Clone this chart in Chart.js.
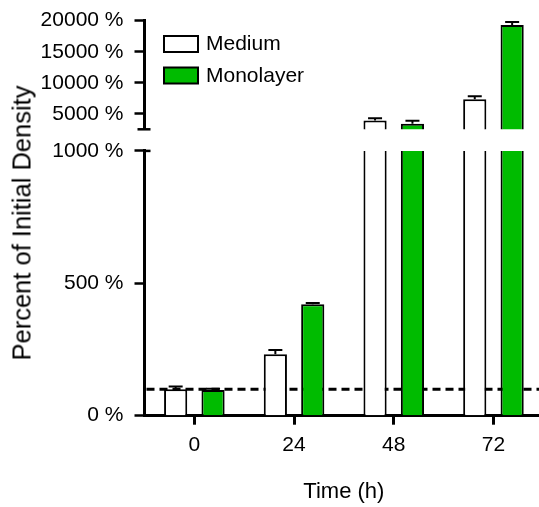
<!DOCTYPE html>
<html>
<head>
<meta charset="utf-8">
<script src="https://cdn.jsdelivr.net/npm/chart.js@4.4.0/dist/chart.umd.min.js"></script>
<style>
  html, body { margin: 0; padding: 0; background: #fff; overflow: hidden; }
  #wrap { position: relative; width: 539px; height: 507px; overflow: hidden; }
  canvas { position: absolute; left: 0; top: 0; }
  #yTitle {
    position: absolute; left: 22px; top: 223px;
    transform: translate(-50%, -50%) rotate(-90deg);
    white-space: nowrap; color: #000;
    font: 25.5px "Liberation Sans", Arial, sans-serif;
  }
</style>
</head>
<body>
<div id="wrap">
  <canvas id="lowChart" width="546" height="507"></canvas>
  <canvas id="highChart" width="546" height="145"></canvas>
  <div id="yTitle">Percent of Initial Density</div>
</div>
<script>
const TIMES = ['0', '24', '48', '72'];
const MEDIUM = [100, 232, 3920, 7350];
const MEDIUM_ERR = [10, 16, 370, 490];
const MONOLAYER = [97, 421, 3390, 19300];
const MONOLAYER_ERR = [5, 5, 480, 490];
const LOW_TICKS = [0, 500, 1000];
const HIGH_TICKS = [5000, 10000, 15000, 20000];
const BASELINE = 100;

const GREEN = '#00bb00';
Chart.defaults.font.family = '"Liberation Sans", Arial, sans-serif';
Chart.defaults.color = '#000';

function makeDatasets() {
    return [
        { label: 'Medium', data: MEDIUM, errors: MEDIUM_ERR, backgroundColor: '#fff' },
        { label: 'Monolayer', data: MONOLAYER, errors: MONOLAYER_ERR, backgroundColor: GREEN }
    ].map(d => Object.assign(d, {
        borderColor: '#000', borderWidth: 2, clip: 0,
        categoryPercentage: 0.75, barPercentage: 0.62
    }));
}

// error bars (upper half only), clipped to the plot area
const errorBars = {
    id: 'errorBars',
    afterDatasetsDraw(chart) {
        const {ctx, chartArea: a, scales: {y}} = chart;
        ctx.save();
        ctx.beginPath();
        ctx.rect(a.left, a.top, a.right - a.left, a.bottom - a.top);
        ctx.clip();
        ctx.strokeStyle = '#000';
        ctx.lineWidth = 2;
        chart.data.datasets.forEach((ds, i) => {
            chart.getDatasetMeta(i).data.forEach((bar, j) => {
                const yTop = y.getPixelForValue(ds.data[j] + ds.errors[j]);
                ctx.beginPath();
                ctx.moveTo(bar.x, bar.y);
                ctx.lineTo(bar.x, yTop);
                ctx.moveTo(bar.x - 7, yTop);
                ctx.lineTo(bar.x + 7, yTop);
                ctx.stroke();
            });
        });
        ctx.restore();
    }
};

const dashedBaseline = {
    id: 'dashedBaseline',
    beforeDatasetsDraw(chart) {
        const {ctx, chartArea: a, scales: {y}} = chart;
        const py = y.getPixelForValue(BASELINE);
        ctx.save();
        ctx.strokeStyle = '#000';
        ctx.lineWidth = 3;
        ctx.setLineDash([8, 5]);
        ctx.beginPath();
        ctx.moveTo(a.left + 2, py);
        ctx.lineTo(a.right, py);
        ctx.stroke();
        ctx.restore();
    }
};

// little caps on each side of the axis break
const breakMarks = {
    id: 'breakMarks',
    afterDraw(chart, args, opts) {
        const {ctx, chartArea: a} = chart;
        ctx.save();
        ctx.strokeStyle = '#000';
        ctx.lineWidth = 2.5;
        ctx.beginPath();
        if (opts.side === 'bottom') {
            ctx.moveTo(a.left - 7, a.bottom);
            ctx.lineTo(a.left + 6, a.bottom);
        } else {
            ctx.moveTo(a.left, a.top);
            ctx.lineTo(a.left + 6, a.top);
        }
        ctx.stroke();
        ctx.restore();
    }
};

const boxLegend = {
    id: 'boxLegend',
    afterDraw(chart) {
        const ctx = chart.ctx;
        ctx.save();
        ctx.font = '21px "Liberation Sans", Arial, sans-serif';
        ctx.textBaseline = 'middle';
        chart.data.datasets.forEach((ds, i) => {
            const top = 36 + i * 31.5;
            ctx.fillStyle = ds.backgroundColor;
            ctx.fillRect(164, top, 34, 16);
            ctx.lineWidth = 2;
            ctx.strokeStyle = '#000';
            ctx.strokeRect(164, top, 34, 16);
            ctx.fillStyle = '#000';
            ctx.fillText(ds.label, 206, top + 8.5);
        });
        ctx.restore();
    }
};

function yAxis(min, max, ticks) {
    return {
        min: min, max: max,
        afterBuildTicks: s => { s.ticks = ticks.map(v => ({ value: v })); },
        afterFit: s => { s.width = 144.5; s.paddingTop = 0; s.paddingBottom = 0; },
        border: { display: true, color: '#000', width: 3 },
        grid: { drawOnChartArea: false, tickLength: 10, tickWidth: 2.5, tickColor: '#000' },
        ticks: { font: { size: 21 }, color: '#000', padding: 11, callback: v => v + ' %' }
    };
}

new Chart(document.getElementById('lowChart'), {
    type: 'bar',
    data: { labels: TIMES, datasets: makeDatasets() },
    options: {
        responsive: false, animation: false,
        layout: { padding: { top: 150.9, bottom: 0, left: 0, right: 2.7 } },
        plugins: { legend: { display: false }, tooltip: { enabled: false }, breakMarks: { side: 'top' } },
        scales: {
            x: {
                afterFit: s => { s.height = 507 - 415.7; },
                border: { display: true, color: '#000', width: 3 },
                grid: { offset: false, drawOnChartArea: false, tickLength: 9, tickWidth: 3, tickColor: '#000' },
                ticks: { font: { size: 21 }, color: '#000', padding: 8 },
                title: { display: true, text: 'Time (h)', font: { size: 22 }, color: '#000', padding: { top: 0, bottom: 2 } }
            },
            y: yAxis(0, 1000, LOW_TICKS)
        }
    },
    plugins: [dashedBaseline, errorBars, breakMarks]
});

new Chart(document.getElementById('highChart'), {
    type: 'bar',
    data: { labels: TIMES, datasets: makeDatasets() },
    options: {
        responsive: false, animation: false,
        layout: { padding: { top: 20.7, bottom: 15.7, left: 0, right: 2.7 } },
        plugins: { legend: { display: false }, tooltip: { enabled: false }, breakMarks: { side: 'bottom' } },
        scales: {
            x: { display: false, grid: { offset: false } },
            y: yAxis(2500, 20000, HIGH_TICKS)
        }
    },
    plugins: [errorBars, breakMarks, boxLegend]
});
</script>
</body>
</html>
